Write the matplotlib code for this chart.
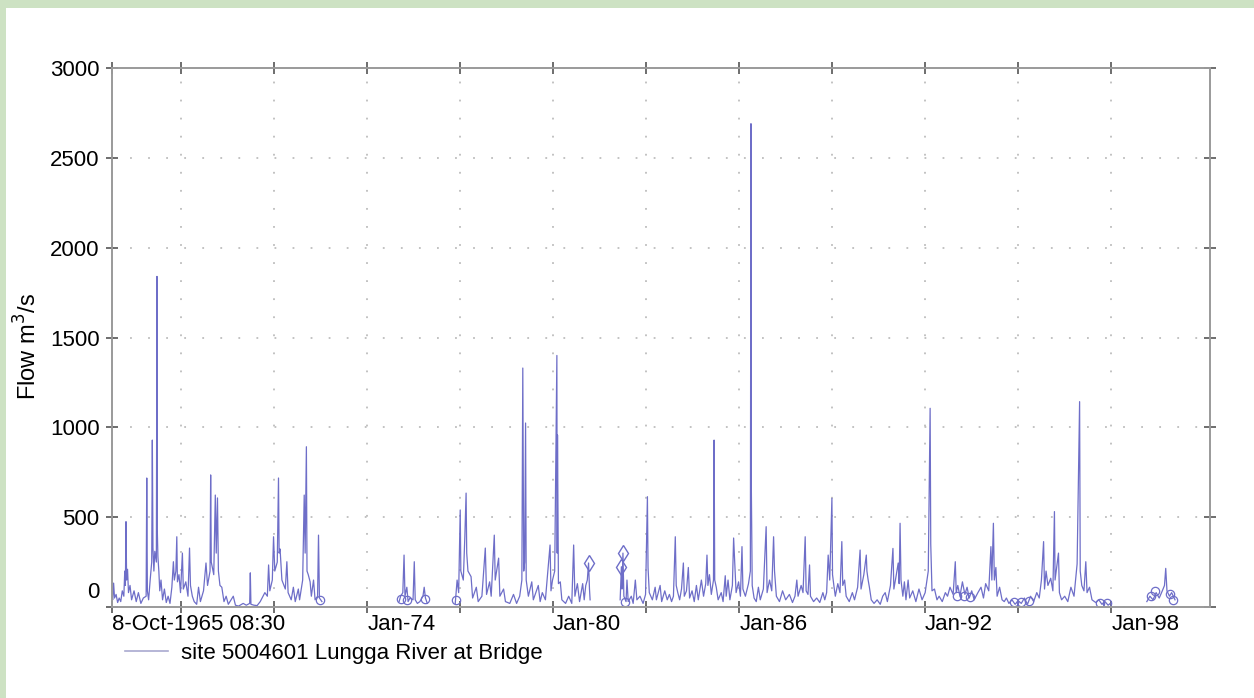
#!/usr/bin/env python3
"""
Lungga River at Bridge (site 5004601): recorded flow, Oct 1965 - 2000.

Values read off the hydrograph by hand; gaps in the record are kept as
separate segments so the line breaks where the station was not logging.
"""

from datetime import datetime

import numpy as np
import matplotlib
matplotlib.use("Agg")
import matplotlib.pyplot as plt
from matplotlib.patches import Rectangle

plt.rcParams.update({
    "font.family": ["Liberation Sans", "DejaVu Sans"],
    "font.size": 16,
})

LINE_COLOR = "#6e6ec8"
BORDER_GREEN = "#cde2c3"

# Record segments: decimal year, flow (m3/s)
SEG1_YEAR = [1965.774, 1965.79, 1965.82, 1965.85, 1965.90, 1965.95, 1966.00, 1966.05, 1966.10,
             1966.15, 1966.18, 1966.20, 1966.22, 1966.24, 1966.27, 1966.30, 1966.35, 1966.40,
             1966.48, 1966.55, 1966.62, 1966.70, 1966.78, 1966.87, 1966.89, 1966.91, 1966.95,
             1967.00, 1967.05, 1967.07, 1967.09, 1967.12, 1967.15, 1967.20, 1967.22, 1967.23,
             1967.25, 1967.28, 1967.31, 1967.35, 1967.40, 1967.46, 1967.52, 1967.58, 1967.64,
             1967.70, 1967.75, 1967.78, 1967.83, 1967.86, 1967.88, 1967.93, 1967.98, 1968.04,
             1968.07, 1968.15, 1968.22, 1968.27, 1968.30, 1968.36, 1968.42, 1968.50, 1968.56,
             1968.62, 1968.72, 1968.80, 1968.85, 1968.93, 1968.95, 1968.97, 1969.05, 1969.10,
             1969.13, 1969.17, 1969.20, 1969.25, 1969.31, 1969.38, 1969.45, 1969.52, 1969.68,
             1969.75, 1969.85, 1970.00, 1970.10, 1970.21, 1970.23, 1970.25, 1970.35, 1970.45,
             1970.55, 1970.70, 1970.78, 1970.82, 1970.86, 1970.94, 1970.98, 1971.02, 1971.10,
             1971.14, 1971.16, 1971.19, 1971.25, 1971.36, 1971.41, 1971.45, 1971.55, 1971.62,
             1971.68, 1971.78, 1971.82, 1971.92, 1971.97, 1972.00, 1972.04, 1972.06, 1972.10,
             1972.16, 1972.20, 1972.27, 1972.32, 1972.40, 1972.43, 1972.46, 1972.54]
SEG1_FLOW = [60, 40, 133, 50, 70, 25, 50, 30, 90,
             60, 200, 120, 475, 150, 210, 80, 120, 40,
             90, 30, 80, 20, 50, 60, 718, 90, 40,
             150, 250, 929, 330, 200, 310, 250, 1840, 430,
             280, 200, 90, 150, 40, 100, 25, 60, 20,
             110, 252, 150, 200, 391, 140, 180, 80, 300,
             100, 140, 60, 328, 120, 60, 30, 15, 110,
             30, 90, 245, 120, 200, 735, 250, 180, 623,
             300, 607, 200, 120, 110, 30, 60, 15, 60,
             10, 5, 20, 10, 20, 190, 15, 10, 8,
             30, 80, 60, 234, 90, 150, 391, 200, 250,
             718, 300, 323, 150, 100, 252, 80, 40, 110,
             30, 100, 40, 150, 623, 300, 892, 200, 180,
             140, 60, 150, 40, 60, 400, 50, 30]

SEG2_YEAR = [1975.03, 1975.08, 1975.15, 1975.19, 1975.22, 1975.28, 1975.32, 1975.38, 1975.48,
             1975.52, 1975.55, 1975.62, 1975.70, 1975.80, 1975.84, 1975.88, 1975.94]
SEG2_FLOW = [30, 60, 80, 289, 60, 110, 30, 50, 40,
             252, 40, 20, 30, 60, 110, 50, 20]

SEG3_YEAR = [1976.84, 1976.90, 1976.95, 1977.00, 1977.02, 1977.10, 1977.15, 1977.19, 1977.21,
             1977.25, 1977.35, 1977.40, 1977.52, 1977.58, 1977.70, 1977.81, 1977.85, 1977.95,
             1978.00, 1978.10, 1978.13, 1978.24, 1978.28, 1978.40, 1978.46, 1978.60, 1978.72,
             1978.82, 1978.92, 1978.99, 1979.02, 1979.05, 1979.08, 1979.11, 1979.13, 1979.20,
             1979.31, 1979.36, 1979.52, 1979.58, 1979.65, 1979.75, 1979.90, 1979.93, 1979.98,
             1980.05, 1980.12, 1980.13, 1980.14, 1980.17, 1980.23, 1980.28, 1980.40, 1980.50,
             1980.60, 1980.66, 1980.70, 1980.78, 1980.85, 1980.95, 1981.00, 1981.05, 1981.10,
             1981.14, 1981.17, 1981.19]
SEG3_FLOW = [20, 150, 80, 540, 200, 150, 395, 634, 300,
             200, 169, 50, 110, 30, 60, 328, 70, 140,
             60, 400, 150, 272, 60, 100, 30, 20, 70,
             20, 60, 150, 1330, 200, 250, 1024, 150, 60,
             140, 40, 120, 30, 80, 40, 345, 90, 150,
             200, 1400, 300, 957, 130, 140, 40, 20, 60,
             20, 345, 60, 130, 30, 130, 40, 120, 150,
             245, 100, 40]

SEG4_YEAR = [1982.16, 1982.20, 1982.22, 1982.25, 1982.28, 1982.35, 1982.38, 1982.42, 1982.52,
             1982.58, 1982.65, 1982.70, 1982.80, 1982.90, 1982.98, 1983.04, 1983.06, 1983.10,
             1983.20, 1983.29, 1983.33, 1983.45, 1983.50, 1983.60, 1983.68, 1983.75, 1983.82,
             1983.88, 1983.94, 1983.97, 1984.02, 1984.08, 1984.14, 1984.20, 1984.23, 1984.30,
             1984.36, 1984.40, 1984.48, 1984.55, 1984.62, 1984.68, 1984.78, 1984.85, 1984.92,
             1984.96, 1984.99, 1985.04, 1985.10, 1985.17, 1985.19, 1985.21, 1985.26, 1985.32,
             1985.42, 1985.48, 1985.55, 1985.58, 1985.64, 1985.70, 1985.78, 1985.82, 1985.85,
             1985.90, 1985.98, 1986.04, 1986.09, 1986.12, 1986.20, 1986.30, 1986.36, 1986.38,
             1986.39, 1986.42, 1986.48, 1986.55, 1986.62, 1986.68, 1986.78, 1986.87, 1986.90,
             1986.98, 1987.05, 1987.11, 1987.14, 1987.20, 1987.30, 1987.40, 1987.50, 1987.62,
             1987.72, 1987.80, 1987.86, 1987.90, 1988.00, 1988.06, 1988.13, 1988.16, 1988.22,
             1988.27, 1988.30, 1988.40, 1988.50, 1988.60, 1988.70, 1988.76, 1988.82, 1988.87,
             1988.92, 1988.99, 1989.01, 1989.06, 1989.10, 1989.18, 1989.25, 1989.31, 1989.34,
             1989.40, 1989.45, 1989.55, 1989.65, 1989.72, 1989.82, 1989.90, 1989.93, 1990.02,
             1990.10, 1990.12, 1990.16, 1990.20, 1990.26, 1990.35, 1990.45, 1990.55, 1990.63,
             1990.71, 1990.78, 1990.88, 1990.96, 1990.99, 1991.05, 1991.13, 1991.16, 1991.19,
             1991.22, 1991.28, 1991.33, 1991.38, 1991.45, 1991.50, 1991.60, 1991.70, 1991.80,
             1991.90, 1992.00, 1992.10, 1992.16, 1992.18, 1992.22, 1992.30, 1992.38, 1992.45,
             1992.55, 1992.65, 1992.72, 1992.80, 1992.90, 1992.97, 1993.00, 1993.05, 1993.12,
             1993.20, 1993.28, 1993.35, 1993.42, 1993.50, 1993.58, 1993.70, 1993.80, 1993.88,
             1993.95, 1994.05, 1994.12, 1994.15, 1994.20, 1994.23, 1994.28, 1994.32, 1994.40,
             1994.48, 1994.55, 1994.62, 1994.70, 1994.80, 1994.90, 1995.00, 1995.10, 1995.20,
             1995.30, 1995.40, 1995.50, 1995.60, 1995.68, 1995.75, 1995.82, 1995.85, 1995.90,
             1995.96, 1996.05, 1996.12, 1996.17, 1996.19, 1996.30, 1996.33, 1996.40, 1996.50,
             1996.60, 1996.70, 1996.80, 1996.90, 1996.98, 1997.00, 1997.05, 1997.12, 1997.18,
             1997.22, 1997.30, 1997.38, 1997.50, 1997.60, 1997.70, 1997.80, 1997.90, 1997.97]
SEG4_FLOW = [40, 224, 100, 300, 60, 30, 150, 30, 60,
             20, 150, 40, 60, 20, 70, 614, 220, 80,
             40, 110, 40, 120, 30, 90, 40, 70, 30,
             60, 391, 120, 80, 40, 100, 245, 60, 90,
             220, 50, 90, 30, 120, 40, 150, 60, 130,
             289, 120, 180, 70, 150, 929, 150, 110, 40,
             80, 30, 174, 60, 150, 40, 120, 384, 270,
             80, 140, 60, 336, 100, 60, 130, 200, 2690,
             700, 120, 50, 30, 110, 40, 100, 447, 80,
             150, 90, 391, 200, 60, 30, 90, 40, 70,
             25, 60, 150, 60, 120, 80, 391, 90, 70,
             234, 60, 30, 50, 25, 80, 40, 80, 289,
             150, 605, 180, 110, 60, 130, 80, 364, 120,
             150, 60, 30, 80, 40, 110, 317, 100, 180,
             289, 200, 150, 110, 40, 20, 40, 15, 60,
             80, 30, 120, 326, 100, 160, 245, 130, 466,
             150, 60, 140, 40, 150, 50, 90, 30, 100,
             40, 80, 200, 1106, 350, 90, 100, 40, 60,
             30, 80, 60, 110, 70, 252, 80, 120, 60,
             140, 70, 110, 50, 90, 40, 80, 110, 50,
             130, 90, 336, 150, 466, 150, 220, 60, 110,
             40, 30, 50, 20, 40, 15, 35, 20, 50,
             15, 60, 30, 80, 50, 150, 364, 100, 200,
             120, 160, 90, 531, 150, 300, 80, 40, 60,
             30, 110, 60, 240, 1143, 200, 120, 90, 252,
             80, 110, 40, 25, 40, 15, 30, 10, 20]

SEG5_YEAR = [1999.15, 1999.25, 1999.35, 1999.45, 1999.55, 1999.65, 1999.72, 1999.76, 1999.80,
             1999.88, 1999.95, 2000.06]
SEG5_FLOW = [30, 60, 40, 80, 50, 90, 120, 215, 90,
             60, 80, 40]

# Flagged readings drawn as open symbols
DIAMOND_YEAR = [1981.14, 1982.20, 1982.25]
DIAMOND_FLOW = [245, 224, 300]
CIRCLE_YEAR = [1972.48, 1975.08, 1975.30, 1975.87, 1976.86, 1982.32, 1993.02, 1993.25,
               1993.45, 1994.85, 1995.10, 1995.35, 1997.65, 1997.85, 1999.30, 1999.42,
               1999.90, 2000.00]
CIRCLE_FLOW = [40, 45, 40, 45, 40, 30, 60, 60, 55, 30, 30, 35, 25, 20, 60, 90, 70, 40]

X_START = datetime(1965, 10, 8, 8, 30)
X_END = datetime(2001, 3, 10)
TICK_YEARS = [1968, 1971, 1974, 1977, 1980, 1983, 1986, 1989, 1992, 1995, 1998]
LABEL_YEARS = [1974, 1980, 1986, 1992, 1998]


def to_date(year):
    """Decimal year -> datetime."""
    y = int(year)
    start = datetime(y, 1, 1)
    return start + (datetime(y + 1, 1, 1) - start) * (year - y)


def main():
    years, flows = [], []
    for seg_y, seg_f in [(SEG1_YEAR, SEG1_FLOW), (SEG2_YEAR, SEG2_FLOW),
                         (SEG3_YEAR, SEG3_FLOW), (SEG4_YEAR, SEG4_FLOW),
                         (SEG5_YEAR, SEG5_FLOW)]:
        if years:
            # break the line across the gap
            years.append(seg_y[0] - 0.001)
            flows.append(np.nan)
        years.extend(seg_y)
        flows.extend(seg_f)
    dates = [to_date(y) for y in years]

    fig = plt.figure(figsize=(12.54, 6.98), dpi=100, facecolor=BORDER_GREEN)
    fig.patches.append(Rectangle((6 / 1254, 0), 1 - 6 / 1254, 1 - 8 / 698,
                                 transform=fig.transFigure, facecolor="white",
                                 edgecolor="none", zorder=-1))

    ax = fig.add_axes([112 / 1254, 91 / 698, 1098 / 1254, 539 / 698])

    line, = ax.plot(dates, flows, color=LINE_COLOR, linewidth=0.9,
                    label="site 5004601 Lungga River at Bridge")
    ax.plot([to_date(y) for y in DIAMOND_YEAR], DIAMOND_FLOW, linestyle="none",
            marker="d", markersize=8, markerfacecolor="none",
            markeredgecolor=LINE_COLOR, markeredgewidth=1.0)
    ax.plot([to_date(y) for y in CIRCLE_YEAR], CIRCLE_FLOW, linestyle="none",
            marker="o", markersize=6, markerfacecolor="none",
            markeredgecolor=LINE_COLOR, markeredgewidth=0.9)

    ax.set_xlim(X_START, X_END)
    ax.set_ylim(0, 3000)

    xticks = [X_START] + [datetime(y, 1, 1) for y in TICK_YEARS]
    xlabels = ["8-Oct-1965 08:30"] + [
        f"Jan-{y % 100:02d}" if y in LABEL_YEARS else "" for y in TICK_YEARS]
    ax.set_xticks(xticks)
    ax.set_xticklabels(xlabels, ha="left")

    yticks = list(range(0, 3001, 500))
    ax.set_yticks(yticks)
    ax.set_yticklabels([""] + [str(v) for v in yticks[1:]])
    # zero label sits a little above the axis line
    ax.annotate("0", xy=(0, 0), xycoords=("axes fraction", "data"),
                xytext=(-13, 14), textcoords="offset pixels",
                ha="right", va="center", fontsize=16)

    for side in ["left", "right", "top", "bottom"]:
        ax.spines[side].set_color("#9a9a9a")
        ax.spines[side].set_linewidth(1.4)
    ax.tick_params(axis="both", direction="inout", length=8, width=1.2,
                   color="#555555", top=True, right=True, labelsize=16)
    ax.tick_params(axis="x", pad=1)
    ax.tick_params(axis="y", pad=5)

    ax.grid(True, color="#bdbdbd", linestyle=(0, (1, 9)), linewidth=1.3)
    ax.set_axisbelow(True)

    fig.text(28 / 1254, 1 - 346 / 698, "Flow m$^3$/s", rotation=90,
             ha="center", va="center", fontsize=17)

    ax.legend(handles=[line], loc="center left",
              bbox_to_anchor=(125 / 1254, 1 - 653 / 698),
              bbox_transform=fig.transFigure, frameon=False, fontsize=16,
              borderpad=0, borderaxespad=0, handlelength=1.95,
              handletextpad=0.55)
    leg_line = ax.get_legend().get_lines()[0]
    leg_line.set_color("#a9a9cf")
    leg_line.set_linewidth(1.2)

    fig.savefig("out.png", dpi=100, facecolor=fig.get_facecolor())
    plt.close(fig)


if __name__ == "__main__":
    main()
